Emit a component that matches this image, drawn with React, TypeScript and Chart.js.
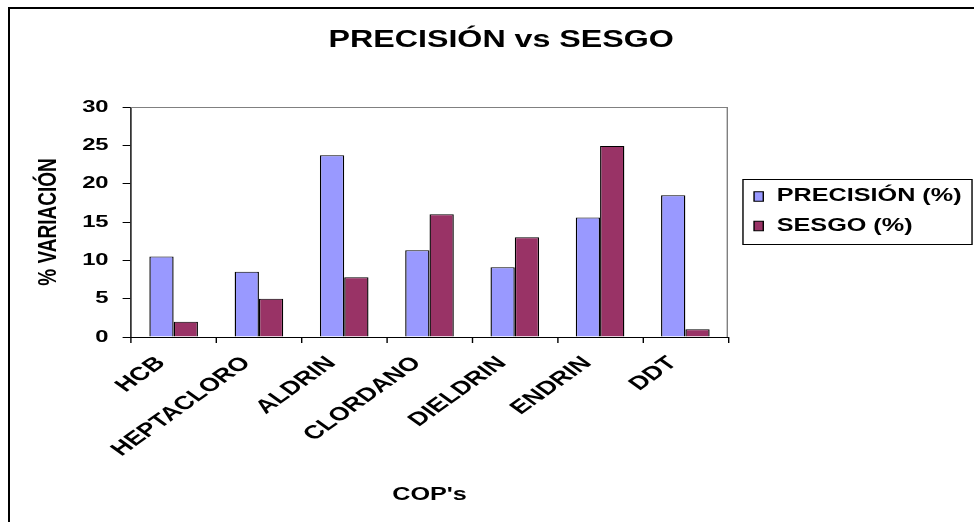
import React, { useEffect, useRef } from "react";
import { Chart, registerables } from "chart.js";

Chart.register(...registerables);

// ---- data ----
const categories = ["HCB", "HEPTACLORO", "ALDRIN", "CLORDANO", "DIELDRIN", "ENDRIN", "DDT"];
const precision = [10.5, 8.5, 23.7, 11.3, 9.1, 15.6, 18.5];
const bias = [2.0, 5.0, 7.8, 16.0, 13.0, 24.9, 1.0];
const seriesLabels = ["PRECISIÓN (%)", "SESGO (%)"];
const yTicks = [0, 5, 10, 15, 20, 25, 30];
const chartTitle = "PRECISIÓN vs SESGO";
const xTitle = "COP's";
const yTitle = "% VARIACIÓN";

// ---- drawing setup ----
const FONT = "'Liberation Sans', Arial, Helvetica, sans-serif";
const SX = 1.4; // horizontal stretch applied to the whole drawing
const LOGICAL_W = 676;
const LOGICAL_H = 522;

// Stretch the bitmap horizontally so every glyph and mark is widened.
const stretch = {
  id: "stretch",
  afterInit(chart: any) {
    const canvas = chart.canvas as HTMLCanvasElement;
    canvas.width = Math.round(LOGICAL_W * SX);
    canvas.height = LOGICAL_H;
    chart.ctx.setTransform(SX, 0, 0, 1, 0, 0);
  },
};

// Grey top and right edges of the plot area.
const plotFrame = {
  id: "plotFrame",
  beforeDatasetsDraw(chart: any) {
    const { ctx, chartArea: a } = chart;
    ctx.save();
    ctx.strokeStyle = "#808080";
    ctx.lineWidth = 1;
    ctx.beginPath();
    ctx.moveTo(a.left, a.top + 0.5);
    ctx.lineTo(a.right - 0.5, a.top + 0.5);
    ctx.lineTo(a.right - 0.5, a.bottom);
    ctx.stroke();
    ctx.restore();
  },
};

// Framed legend to the right of the plot.
const boxedLegend = {
  id: "boxedLegend",
  afterDraw(chart: any) {
    const { ctx } = chart;
    const left = 510.7;
    const top = 179.5;
    const right = 674.3;
    const bottom = 244.5;
    ctx.save();
    ctx.strokeStyle = "#000";
    ctx.lineWidth = 1;
    ctx.strokeRect(left, top, right - left, bottom - top);
    ctx.font = `bold 18px ${FONT}`;
    ctx.textBaseline = "middle";
    ctx.textAlign = "left";
    chart.data.datasets.forEach((ds: any, i: number) => {
      const cy = 196.5 + i * 29.5;
      ctx.fillStyle = ds.backgroundColor;
      ctx.fillRect(518.6, cy - 4.75, 6.6, 9.5);
      ctx.strokeRect(518.6, cy - 4.75, 6.6, 9.5);
      ctx.fillStyle = "#000";
      ctx.fillText(ds.label, 534.8, cy);
    });
    ctx.restore();
  },
};

export default function App() {
  const canvasRef = useRef<HTMLCanvasElement | null>(null);

  useEffect(() => {
    const canvas = canvasRef.current;
    if (!canvas) return;
    const boldFont = (size: number) => ({ family: FONT, size, weight: "bold" as const });

    const chart = new Chart(canvas, {
      type: "bar",
      data: {
        labels: categories,
        datasets: [
          {
            label: seriesLabels[0],
            data: precision,
            backgroundColor: "#9999FF",
            borderColor: "#000000",
            borderWidth: 1,
            yAxisID: "y",
          },
          {
            label: seriesLabels[1],
            data: bias,
            backgroundColor: "#993366",
            borderColor: "#000000",
            borderWidth: 1,
            yAxisID: "y",
          },
        ],
      },
      options: {
        responsive: false,
        animation: false,
        devicePixelRatio: 1,
        layout: { padding: { left: 3.4, right: 3.4, top: 0, bottom: 0 } },
        datasets: { bar: { categoryPercentage: 0.57, barPercentage: 1 } },
        plugins: {
          legend: { display: false },
          tooltip: { enabled: false },
          title: {
            display: true,
            text: chartTitle,
            color: "#000",
            font: boldFont(23),
            padding: { top: 27, bottom: 52.4 },
          },
        },
        scales: {
          x: {
            type: "category",
            offset: true,
            grid: {
              display: true,
              offset: true,
              drawOnChartArea: false,
              drawTicks: true,
              tickLength: 6,
              color: "#000",
              lineWidth: 1,
            },
            border: { display: true, color: "#000", width: 1 },
            ticks: {
              autoSkip: false,
              minRotation: 45,
              maxRotation: 45,
              padding: 9,
              labelOffset: -9,
              color: "#000",
              font: boldFont(19),
            },
            title: {
              display: true,
              text: xTitle,
              color: "#000",
              font: boldFont(18),
              padding: { top: 0, bottom: 16 },
            },
            afterFit: (s: any) => {
              s.height = 185;
            },
          },
          y: {
            type: "linear",
            position: "left",
            min: 0,
            max: 30,
            afterBuildTicks: (s: any) => {
              s.ticks = yTicks.map((v) => ({ value: v }));
            },
            ticks: { padding: 10, color: "#000", font: boldFont(17) },
            grid: { drawOnChartArea: false, tickLength: 6, color: "#000", lineWidth: 1 },
            border: { display: true, color: "#000", width: 1 },
            title: {
              display: true,
              text: yTitle,
              color: "#000",
              font: boldFont(19),
              padding: { top: 0, bottom: 0 },
            },
            afterFit: (s: any) => {
              s.width = 70.17;
            },
          },
          // reserves the room on the right where the framed legend sits
          spacer: {
            type: "linear",
            position: "right",
            display: true,
            grid: { display: false },
            ticks: { display: false },
            border: { display: false },
            afterFit: (s: any) => {
              s.width = 172.6;
            },
          },
        },
      },
      plugins: [stretch, plotFrame, boxedLegend],
    } as any);

    return () => chart.destroy();
  }, []);

  return (
    <div
      style={{
        position: "fixed",
        left: 0,
        top: 0,
        width: 974,
        height: 522,
        overflow: "hidden",
        background: "#fff",
      }}
    >
      <div
        style={{
          position: "absolute",
          left: 8,
          top: 7,
          width: 980,
          height: 530,
          borderLeft: "2px solid #000",
          borderTop: "2px solid #000",
        }}
      />
      <canvas
        ref={canvasRef}
        width={LOGICAL_W}
        height={LOGICAL_H}
        style={{
          position: "absolute",
          left: 28,
          top: 0,
          width: Math.round(LOGICAL_W * SX),
          height: LOGICAL_H,
        }}
      />
    </div>
  );
}
